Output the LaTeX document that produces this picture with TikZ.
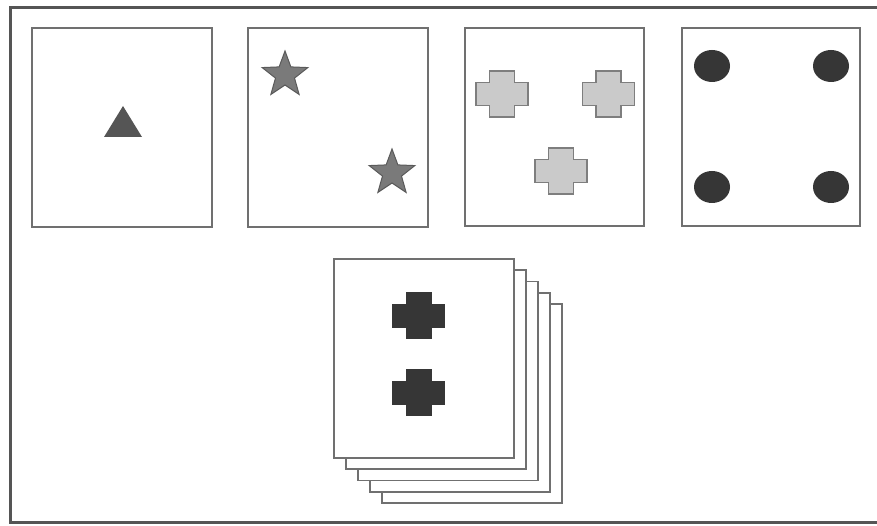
\documentclass[tikz,border=0pt]{standalone}
\usetikzlibrary{calc}
\definecolor{framegray}{HTML}{555555}
\definecolor{cardgray}{HTML}{707070}
\definecolor{trigray}{HTML}{555555}
\definecolor{starfill}{HTML}{7A7A7A}
\definecolor{stardraw}{HTML}{5A5A5A}
\definecolor{lightfill}{HTML}{CACACA}
\definecolor{lightdraw}{HTML}{7E7E7E}
\definecolor{darkfill}{HTML}{363636}
\tikzset{
  x=1pt, y=-1pt,
  frame/.style={draw=framegray, line width=3pt},
  card/.style={draw=cardgray, line width=1.7pt, fill=white, rectangle, inner sep=0pt,
               minimum width=180pt, minimum height=199pt},
  plus/.pic={\path[pic actions] (-12.5,-23) -- (12.5,-23) -- (12.5,-11.5) -- (26,-11.5)
      -- (26,11.5) -- (12.5,11.5) -- (12.5,23) -- (-12.5,23) -- (-12.5,11.5) -- (-26,11.5)
      -- (-26,-11.5) -- (-12.5,-11.5) -- cycle;},
  starpic/.pic={\path[pic actions] (270:24) -- (306:10) -- (342:24) -- (18:10) -- (54:24)
      -- (90:10) -- (126:24) -- (162:10) -- (198:24) -- (234:10) -- cycle;},
  lightcross/.style={fill=lightfill, draw=lightdraw, line width=1.2pt},
  darkcross/.style={fill=darkfill, draw=darkfill, line width=0.6pt},
  stardeco/.style={fill=starfill, draw=stardraw, line width=1pt}
}
\begin{document}
\begin{tikzpicture}
\useasboundingbox (0,0) rectangle (877,526);
\fill[white] (0,0) rectangle (877,526);
% outer frame
\coordinate (ftl) at (10,8);
\coordinate (fbl) at (10,522);
\coordinate (ftr) at (890,8);
\coordinate (fbr) at (890,522);
\draw[frame] (ftr) -- (ftl) -- (fbl) -- (fbr);
% top row cards
\node[card] (c1) at (122,127.5) {};
\node[card] (c2) at (338,127.5) {};
\node[card, minimum width=179pt, minimum height=198pt] (c3) at (554.5,127) {};
\node[card, minimum width=178pt, minimum height=198pt] (c4) at (771,127) {};
% card 1: triangle
\coordinate (ta) at (123,106);
\coordinate (tb) at (104,137);
\coordinate (tc) at (142,137);
\fill[trigray] (ta) -- (tb) -- (tc) -- cycle;
% card 2: stars
\pic[stardeco] at (285,75) {starpic};
\pic[stardeco] at (392,173) {starpic};
% card 3: light crosses
\pic[lightcross] at (502,94) {plus};
\pic[lightcross] at (608.5,94) {plus};
\pic[lightcross] at (561,171) {plus};
% card 4: dots
\fill[darkfill] (712,66) ellipse [x radius=18, y radius=16];
\fill[darkfill] (831,66) ellipse [x radius=18, y radius=16];
\fill[darkfill] (712,187) ellipse [x radius=18, y radius=16];
\fill[darkfill] (831,187) ellipse [x radius=18, y radius=16];
% stack of cards
\foreach \k in {4,3,2,1} {
  \node[card] (s\k) at ({424+12*\k},{358.5+11.25*\k}) {};
}
\node[card] (s0) at (424,358.5) {};
\pic[darkcross] at (418.5,315.5) {plus};
\pic[darkcross] at (418.5,392.5) {plus};
\end{tikzpicture}
\end{document}
